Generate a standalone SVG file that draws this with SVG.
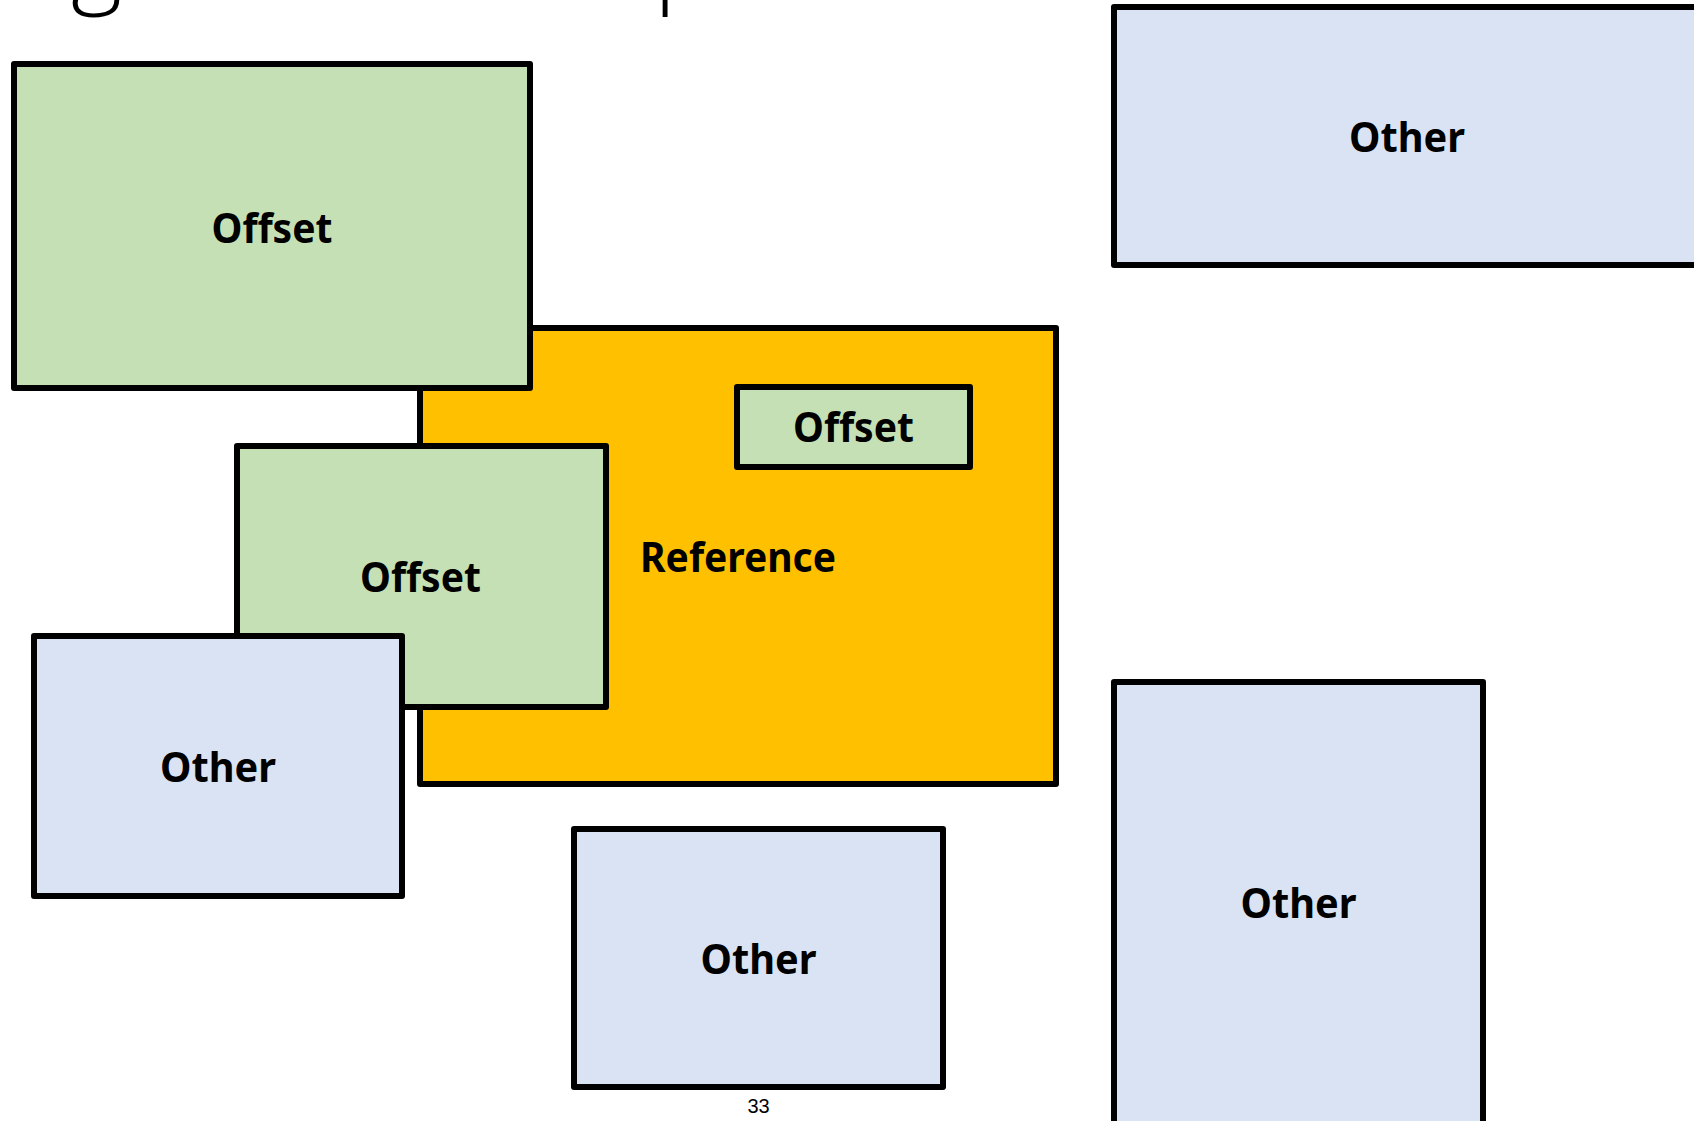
<svg xmlns="http://www.w3.org/2000/svg" width="1694" height="1121" viewBox="0 0 1694 1121">
  <style>
    .box { stroke: #000; stroke-width: 6; stroke-linejoin: round; }
    .offset { fill: #C5E0B4; }
    .ref { fill: #FFC000; }
    .other { fill: #DAE3F3; }
    .lbl { font-family: "Noto Sans", "Open Sans", sans-serif; font-weight: bold; font-size: 42px; fill: #000; text-anchor: middle; }
    .title { font-family: "Open Sans", "Noto Sans", sans-serif; font-weight: 300; font-size: 98px; fill: #000; }
    .pageno { font-family: "Liberation Sans", Arial, sans-serif; font-size: 20px; fill: #000; text-anchor: middle; }
  </style>
  <rect width="1694" height="1121" fill="#fff"/>

  <!-- title line, only its descenders fall inside the page -->
  <g id="title">
    <text class="title" x="71" y="-6">g</text>
    <text class="title" x="654" y="-6">p</text>
  </g>

  <g id="connectors"/>

  <g id="reference">
    <rect class="box ref" x="420" y="328" width="636" height="456"/>
    <text class="lbl" x="738" y="572" textLength="196" lengthAdjust="spacingAndGlyphs">Reference</text>
  </g>
  <g id="offset-inner">
    <rect class="box offset" x="737" y="387" width="233" height="80"/>
    <text class="lbl" x="853.5" y="442" textLength="121" lengthAdjust="spacingAndGlyphs">Offset</text>
  </g>
  <g id="offset-topleft">
    <rect class="box offset" x="14" y="64" width="516" height="324"/>
    <text class="lbl" x="272" y="243" textLength="121" lengthAdjust="spacingAndGlyphs">Offset</text>
  </g>
  <g id="offset-middle">
    <rect class="box offset" x="237" y="446" width="369" height="261"/>
    <text class="lbl" x="420.5" y="592" textLength="121" lengthAdjust="spacingAndGlyphs">Offset</text>
  </g>
  <g id="other-left">
    <rect class="box other" x="34" y="636" width="368" height="260"/>
    <text class="lbl" x="218" y="782" textLength="116" lengthAdjust="spacingAndGlyphs">Other</text>
  </g>
  <g id="other-bottom">
    <rect class="box other" x="574" y="829" width="369" height="258"/>
    <text class="lbl" x="758.5" y="974" textLength="116" lengthAdjust="spacingAndGlyphs">Other</text>
  </g>
  <g id="other-topright">
    <rect class="box other" x="1114" y="7" width="600" height="258"/>
    <text class="lbl" x="1407" y="152" textLength="116" lengthAdjust="spacingAndGlyphs">Other</text>
  </g>
  <g id="other-bottomright">
    <rect class="box other" x="1114" y="682" width="369" height="460"/>
    <text class="lbl" x="1298.5" y="918" textLength="116" lengthAdjust="spacingAndGlyphs">Other</text>
  </g>

  <text class="pageno" x="758.5" y="1113">33</text>
</svg>
